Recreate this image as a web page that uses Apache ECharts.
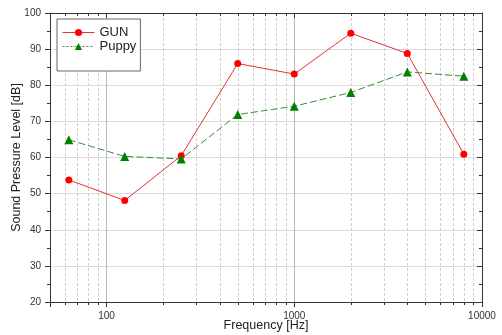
<!DOCTYPE html>
<html>
<head>
<meta charset="utf-8">
<script src="https://cdn.jsdelivr.net/npm/echarts@6/dist/echarts.min.js"></script>
<style>
  html, body { margin: 0; padding: 0; background: #fff; }
  #chart { width: 502px; height: 335px; }
</style>
</head>
<body>
<div id="chart"></div>
<script>
// octave band centres [Hz]
const freqs = [63, 125, 250, 500, 1000, 2000, 4000, 8000];
const gunSpl = [53.8, 48.1, 60.5, 86.0, 83.1, 94.4, 88.8, 60.9];
const puppySpl = [64.9, 60.3, 59.6, 71.9, 74.2, 78.0, 83.7, 82.5];
// minor ticks on the log axis
const minorFreqs = [60, 70, 80, 90, 200, 300, 400, 500, 600, 700, 800, 900,
  2000, 3000, 4000, 5000, 6000, 7000, 8000, 9000];
const yTicks = [20, 30, 40, 50, 60, 70, 80, 90, 100];

const chart = echarts.init(document.getElementById('chart'));
const font = 'Liberation Sans, Arial, sans-serif';
const axisColor = '#333';

function minorMarks(params, api) {
  const f = api.value(0);
  const top = api.coord([f, yTicks[yTicks.length - 1]]);
  const bot = api.coord([f, yTicks[0]]);
  const x = Math.round(top[0]) + 0.5;
  return {
    type: 'group',
    children: [
      { type: 'line', shape: { x1: x, y1: top[1], x2: x, y2: bot[1] },
        style: { stroke: '#cfcfcf', lineWidth: 1, lineDash: [3, 2] } },
      { type: 'line', shape: { x1: x, y1: bot[1], x2: x, y2: bot[1] + 3 },
        style: { stroke: axisColor, lineWidth: 1 } },
      { type: 'line', shape: { x1: x, y1: top[1], x2: x, y2: top[1] + 3 },
        style: { stroke: axisColor, lineWidth: 1 } }
    ]
  };
}

const option = {
  animation: false,
  backgroundColor: '#fff',
  textStyle: { fontFamily: font },
  grid: { left: 50, right: 20, top: 13, bottom: 33, outerBoundsMode: 'none', containLabel: false },
  legend: {
    data: [
      { name: 'GUN', lineStyle: { width: 1 } },
      { name: 'Puppy', lineStyle: { width: 1, type: [2, 2] } }
    ],
    orient: 'vertical',
    left: 57,
    top: 19,
    itemWidth: 32,
    itemHeight: 9,
    itemGap: 1,
    padding: [7, 4, 18, 5],
    borderColor: '#666',
    borderWidth: 1,
    backgroundColor: '#fff',
    textStyle: { fontFamily: font, fontSize: 13, color: '#222' }
  },
  xAxis: [{
    type: 'log',
    logBase: 10,
    min: 50,
    max: 10000,
    name: 'Frequency [Hz]',
    nameLocation: 'middle',
    nameGap: 17,
    nameMoveOverlap: false,
    nameTextStyle: { fontFamily: font, fontSize: 12.5, color: '#222' },
    axisLine: { lineStyle: { color: axisColor } },
    axisTick: { length: 5, lineStyle: { color: axisColor } },
    axisLabel: {
      fontSize: 10, color: '#333', margin: 9,
      formatter: v => {
        const l = Math.log10(v);
        return Math.abs(l - Math.round(l)) < 1e-6 ? String(Math.round(v)) : '';
      }
    },
    splitLine: { show: true, lineStyle: { color: '#b8b8b8' } }
  }, {
    type: 'log',
    logBase: 10,
    min: 50,
    max: 10000,
    position: 'top',
    axisLine: { lineStyle: { color: axisColor } },
    axisTick: { inside: true, length: 5, lineStyle: { color: axisColor } },
    axisLabel: { show: false },
    splitLine: { show: false }
  }],
  yAxis: [{
    type: 'value',
    min: 20,
    max: 100,
    interval: 10,
    name: 'Sound Pressure Level [dB]',
    nameLocation: 'middle',
    nameGap: 27,
    nameMoveOverlap: false,
    nameTextStyle: { fontFamily: font, fontSize: 12.5, color: '#222' },
    axisLine: { show: true, lineStyle: { color: axisColor } },
    axisTick: { show: true, length: 5, lineStyle: { color: axisColor } },
    minorTick: { show: true, splitNumber: 2, length: 3, lineStyle: { color: axisColor } },
    axisLabel: { fontSize: 10, color: '#333', margin: 9 },
    splitLine: { show: true, lineStyle: { color: '#dcdcdc' } }
  }, {
    type: 'value',
    min: 20,
    max: 100,
    interval: 10,
    position: 'right',
    axisLine: { show: true, lineStyle: { color: axisColor } },
    axisTick: { show: true, inside: true, length: 5, lineStyle: { color: axisColor } },
    minorTick: { show: true, splitNumber: 2, length: 3, lineStyle: { color: axisColor } },
    axisLabel: { show: false },
    splitLine: { show: false }
  }],
  series: [{
    type: 'custom',
    name: 'minor',
    renderItem: minorMarks,
    data: minorFreqs.map(f => [f]),
    encode: { x: 0 },
    silent: true,
    z: 1
  }, {
    name: 'GUN',
    type: 'line',
    data: freqs.map((f, i) => [f, gunSpl[i]]),
    symbol: 'circle',
    symbolSize: 7,
    color: '#ff0000',
    lineStyle: { width: 1, color: '#e83030' },
    itemStyle: { color: '#ff0000' },
    z: 3
  }, {
    name: 'Puppy',
    type: 'line',
    data: freqs.map((f, i) => [f, puppySpl[i]]),
    symbol: 'triangle',
    symbolSize: 9,
    color: '#008000',
    lineStyle: { width: 1, color: '#3a8a3a', type: [7, 3] },
    itemStyle: { color: '#008000' },
    z: 3
  }]
};

chart.setOption(option);
</script>
</body>
</html>
